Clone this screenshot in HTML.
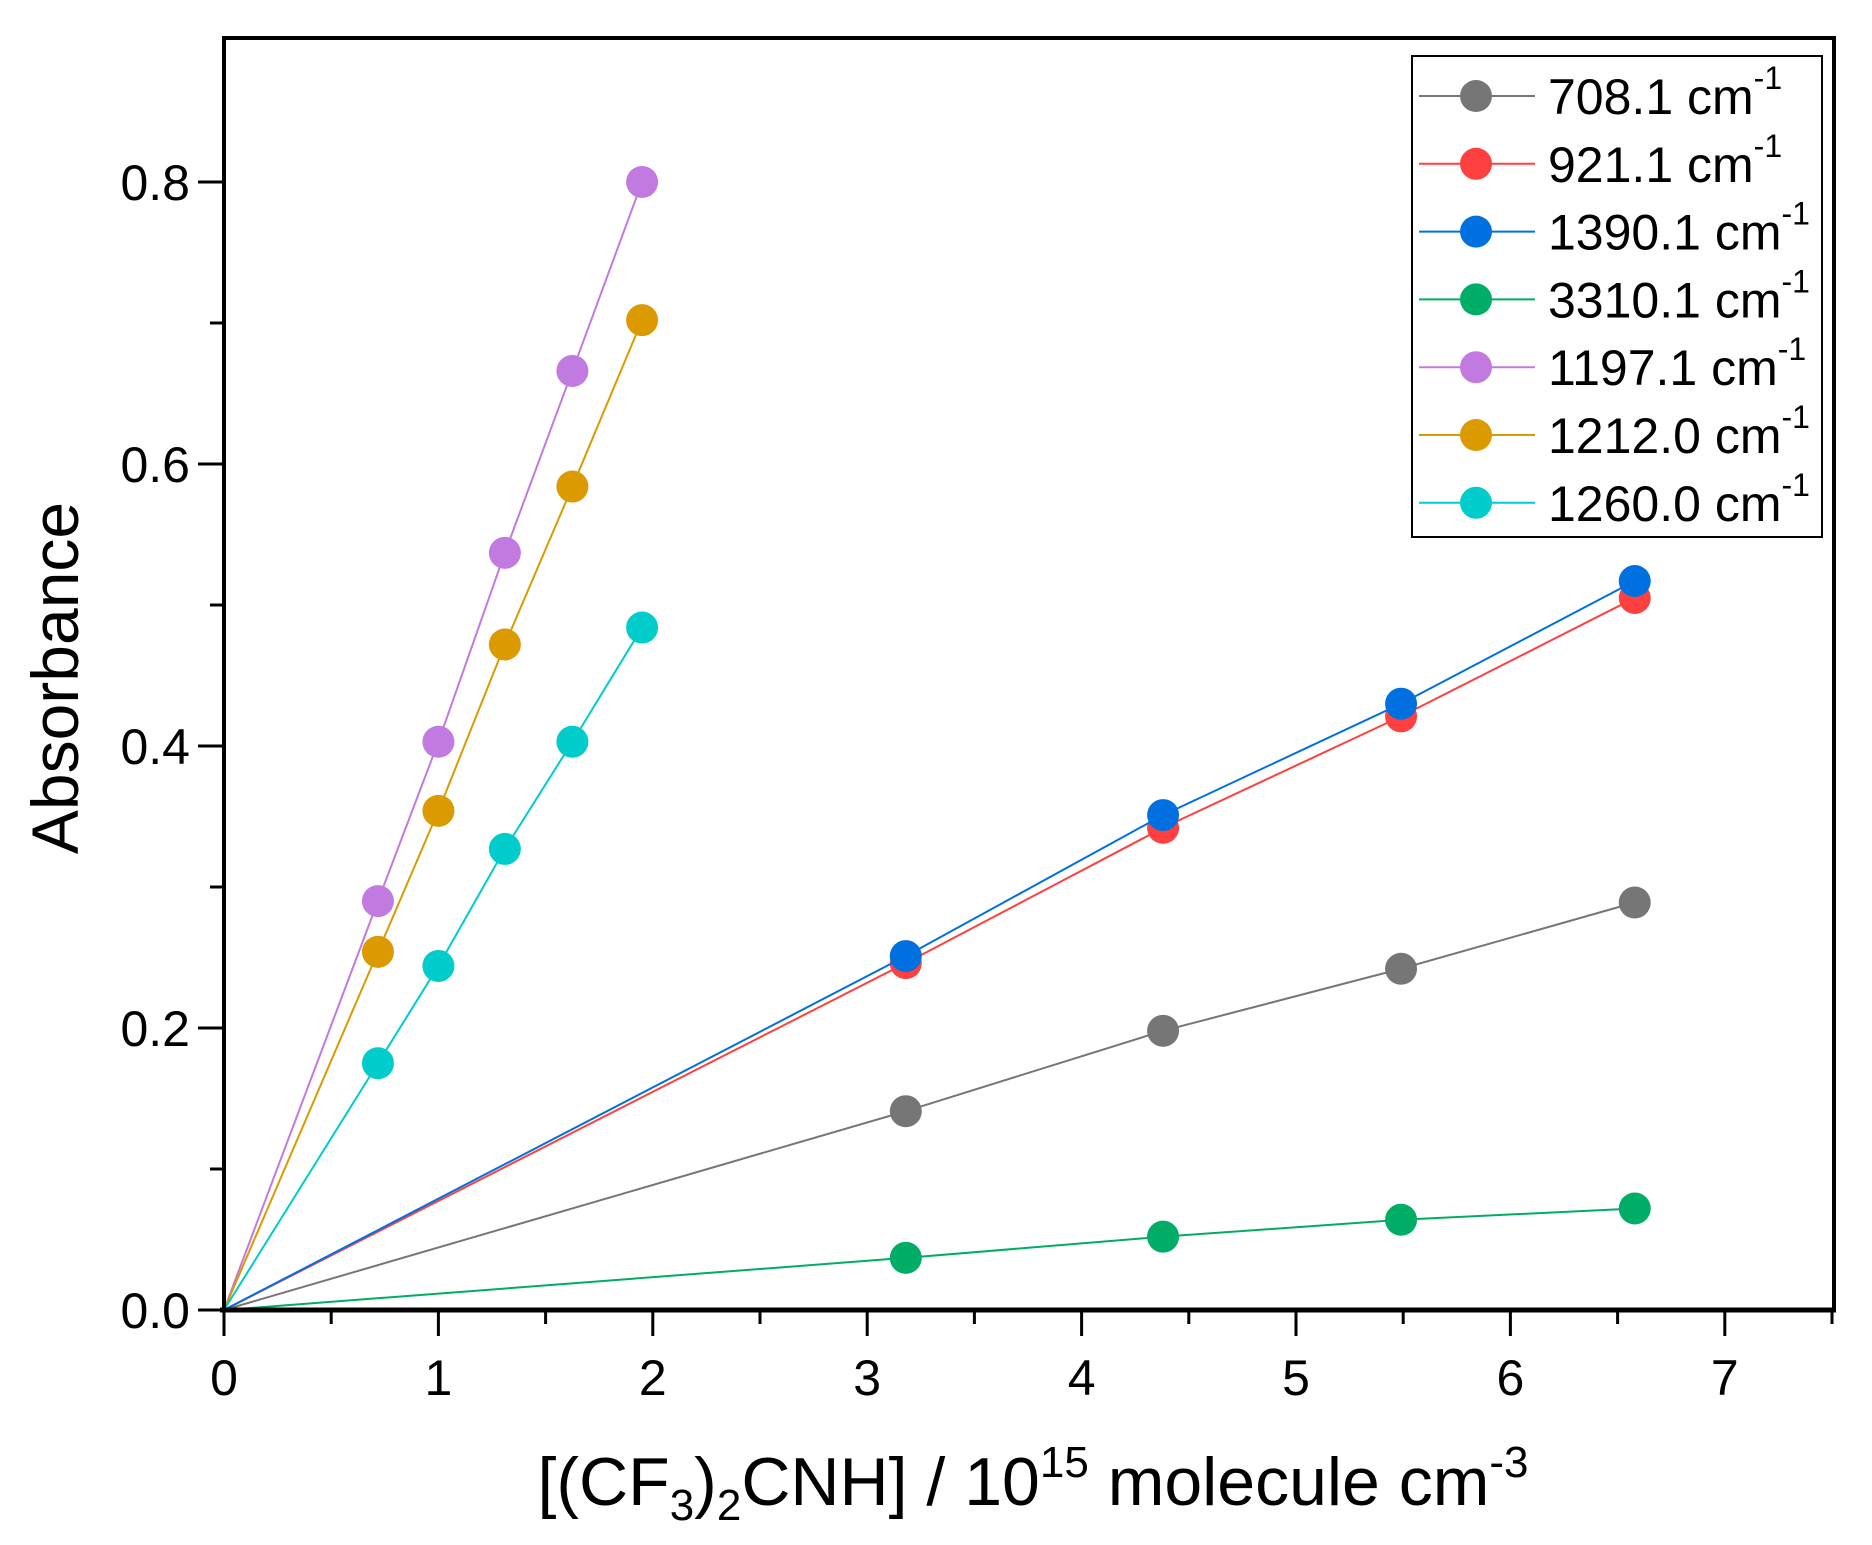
<!DOCTYPE html>
<html><head><meta charset="utf-8"><style>
html,body{margin:0;padding:0;background:#fff;}
svg{display:block;font-family:"Liberation Sans",Arial,sans-serif;}
</style></head><body>
<svg id="chart" width="1872" height="1545" viewBox="0 0 1872 1545" xmlns="http://www.w3.org/2000/svg">
<g id="plot"></g>
</svg>
<script>
const seriesNames = ["708.1","921.1","1390.1","3310.1","1197.1","1212.0","1260.0"];
const seriesColors = ["#767676","#ff4040","#0070e0","#00ad66","#c07ae0","#db9a00","#00cccc"];
const xLow = [0, 0.718, 1.0, 1.31, 1.625, 1.95];
const xHigh = [0, 3.18, 4.38, 5.49, 6.58];
const y708 = [0, 0.141, 0.198, 0.242, 0.289];
const y921 = [0, 0.246, 0.342, 0.421, 0.505];
const y1390 = [0, 0.251, 0.351, 0.430, 0.517];
const y3310 = [0, 0.037, 0.052, 0.064, 0.072];
const y1197 = [0, 0.290, 0.403, 0.537, 0.666, 0.800];
const y1212 = [0, 0.254, 0.354, 0.472, 0.584, 0.702];
const y1260 = [0, 0.175, 0.244, 0.327, 0.403, 0.484];
const xTicks = [0,1,2,3,4,5,6,7];
const yTicks = ["0.0","0.2","0.4","0.6","0.8"];

const L=224, R=1834, B=1310, T=38;
const X = v => L + v*214.4;
const Y = v => B - v*1410;
const NS="http://www.w3.org/2000/svg";
const g=document.getElementById('plot');
function mk(tag, attrs, parent){const e=document.createElementNS(NS,tag);for(const k in attrs)e.setAttribute(k,attrs[k]);(parent||g).appendChild(e);return e;}

const xs=[xHigh,xHigh,xHigh,xHigh,xLow,xLow,xLow];
const ys=[y708,y921,y1390,y3310,y1197,y1212,y1260];
ys.forEach((yy,i)=>{
  const sg=mk('g',{});
  
  
  const pts=yy.map((v,j)=>X(xs[i][j])+','+Y(v)).join(' ');
  const pl=mk('polyline',{points:pts,fill:'none',stroke:seriesColors[i],'stroke-width':2},sg);
  
  
  yy.forEach((v,j)=>{ if(j===0) return;
    const c=mk('circle',{cx:X(xs[i][j]),cy:Y(v),r:16,fill:seriesColors[i]},sg);
    
    
  });
});

// axes
const ax=mk('g',{});


mk('rect',{x:L,y:T,width:R-L,height:B-T,fill:'none',stroke:'#000','stroke-width':4},ax);
mk('line',{x1:L-4,y1:B,x2:R+2,y2:B,stroke:'#000','stroke-width':5},ax);
for(let i=0;i<=15;i++){const v=i*0.5;const x=X(v);if(x>R+1)break;
  mk('line',{x1:x,y1:B,x2:x,y2:B+(i%2?14:26),stroke:'#000','stroke-width':3},ax);}
xTicks.forEach(t=>{const e=mk('text',{x:X(t),y:1395,'font-size':50,'text-anchor':'middle'},ax);e.textContent=t;
  
  });
for(let i=0;i<=8;i++){const y=Y(i*0.1);
  mk('line',{x1:L,y1:y,x2:L-(i%2?14:26),y2:y,stroke:'#000','stroke-width':3},ax);}
yTicks.forEach(t=>{const e=mk('text',{x:190,y:Y(parseFloat(t))+18,'font-size':50,'text-anchor':'end'},ax);e.textContent=t;
  
  });

const xt=mk('text',{x:1033,y:1505,'font-size':68,'text-anchor':'middle'});


xt.innerHTML='[(CF<tspan font-size="44" dy="15">3</tspan><tspan dy="-15">)</tspan><tspan font-size="44" dy="15">2</tspan><tspan dy="-15">CNH] / 10</tspan><tspan font-size="44" dy="-28">15</tspan><tspan dy="28"> molecule cm</tspan><tspan font-size="44" dy="-28">-3</tspan>';
const yt=mk('text',{x:0,y:0,'font-size':66,'text-anchor':'middle',transform:'translate(78,678) rotate(-90)'});


yt.textContent='Absorbance';

// legend
const lg=mk('g',{});


mk('rect',{x:1412,y:56,width:410,height:481,fill:'#fff',stroke:'#000','stroke-width':2},lg);
seriesNames.forEach((n,i)=>{
  const y=96+i*67.8;
  const e=mk('g',{},lg);
  
  
  mk('line',{x1:1419,y1:y,x2:1535,y2:y,stroke:seriesColors[i],'stroke-width':2},e);
  mk('circle',{cx:1476,cy:y,r:16,fill:seriesColors[i]},e);
  const t=mk('text',{x:1548,y:y+18,'font-size':50},e);
  t.innerHTML=n+' cm<tspan font-size="32" dy="-25">-1</tspan>';
});
</script>
</body></html>
